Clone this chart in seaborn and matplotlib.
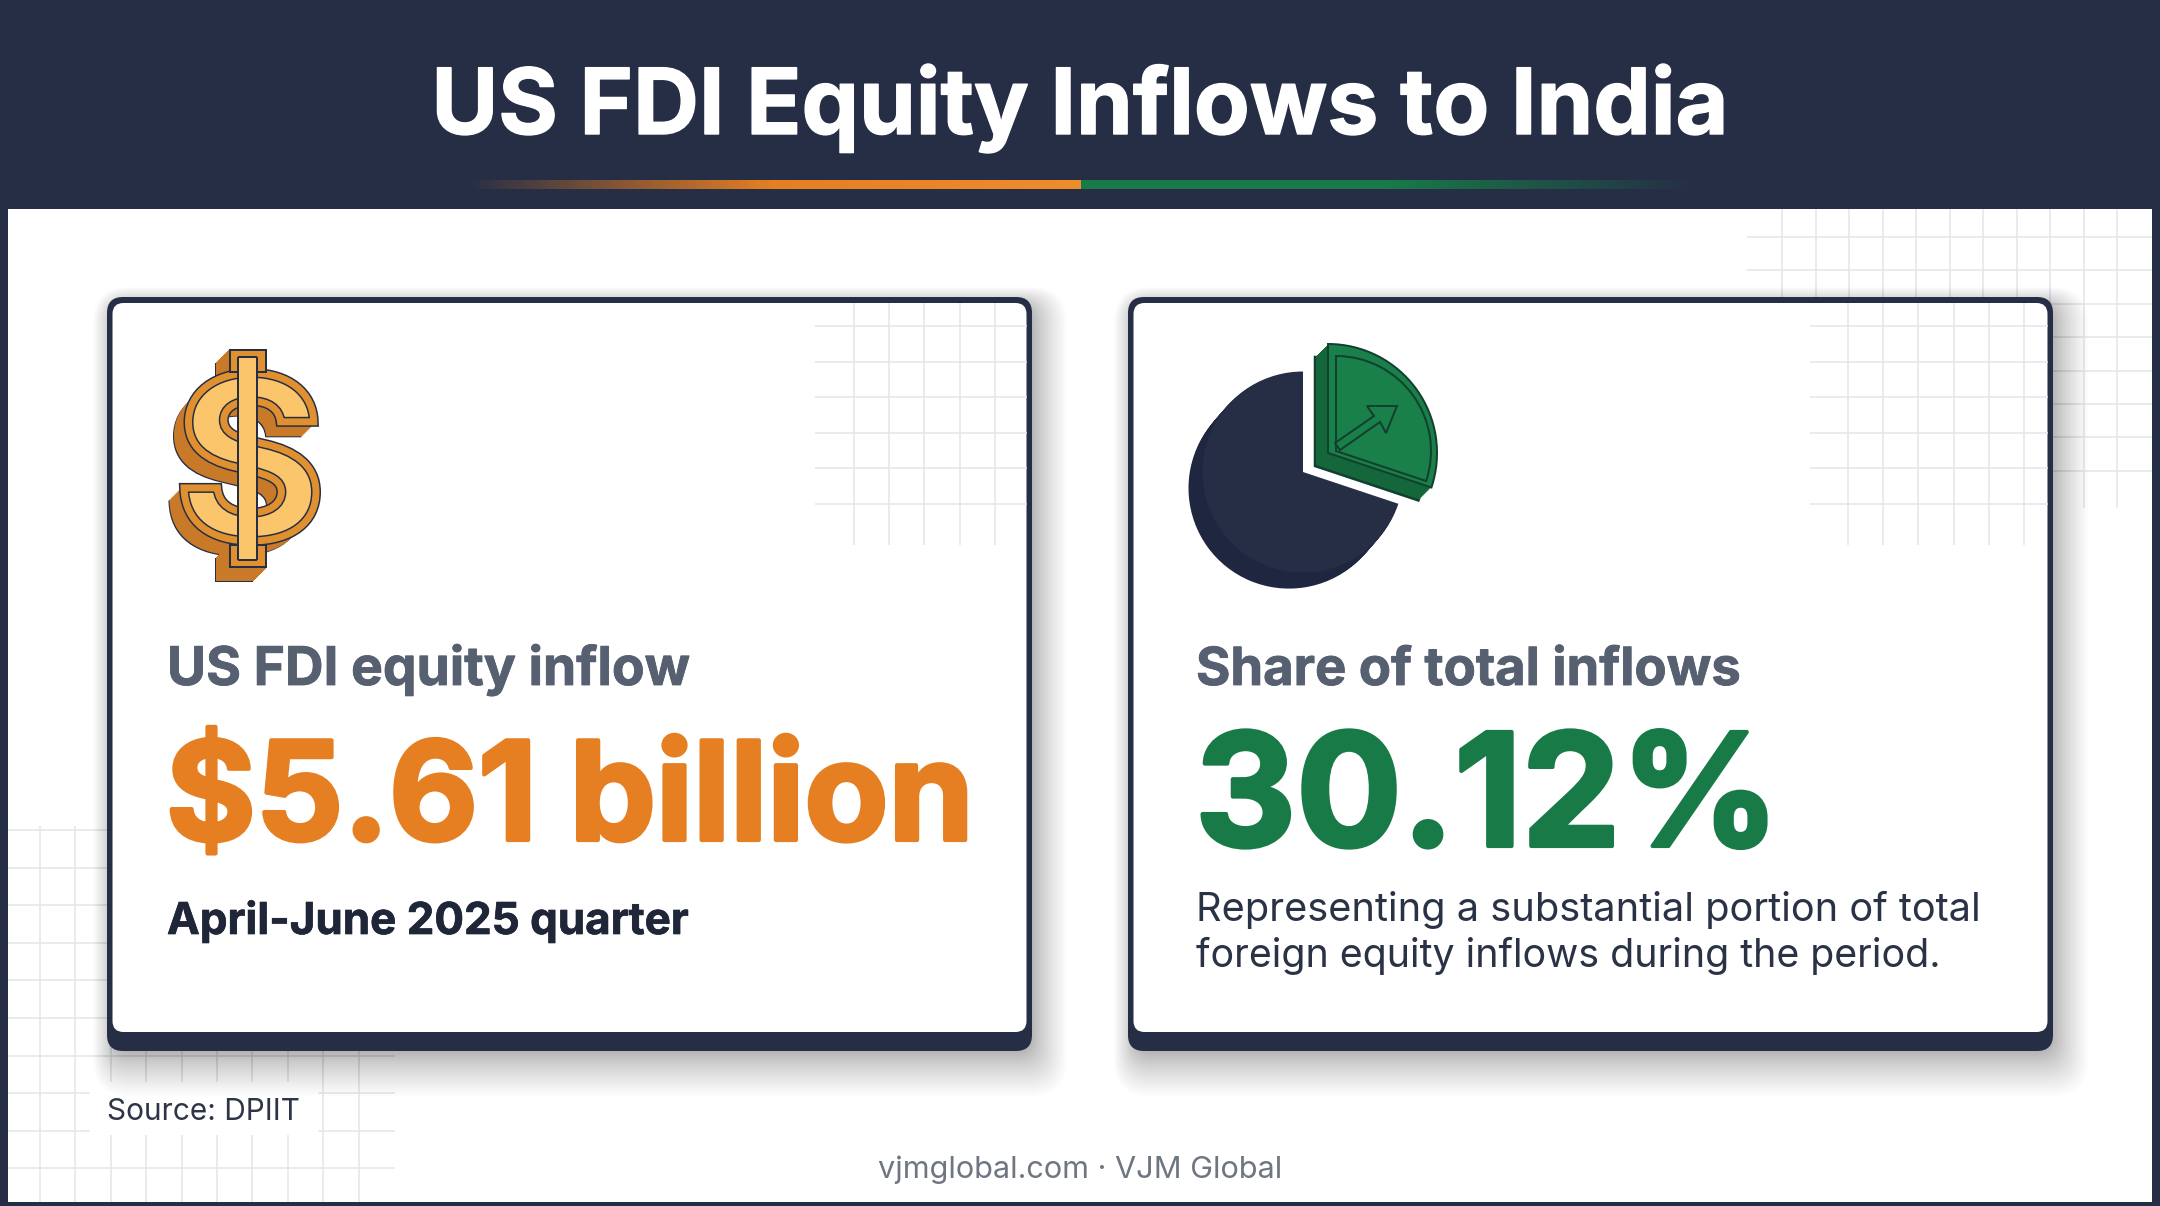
"""
US FDI equity inflows to India: two stat cards on a dark header slide.
Everything is placed on one full-figure axes measured in image pixels.

Run:
    python plot.py
"""

import numpy as np
import matplotlib
matplotlib.use("Agg")
import matplotlib.pyplot as plt
import matplotlib.patheffects as pe
import seaborn as sns
from matplotlib.patches import FancyBboxPatch, PathPatch, Polygon, Rectangle
from matplotlib.font_manager import FontProperties
from matplotlib.text import TextPath
from matplotlib.transforms import Affine2D

# ── Data ─────────────────────────────────────────────────────────────────────
TITLE = "US FDI Equity Inflows to India"
INFLOW_BILLION = 5.61
SHARE_PCT = 30.12
INFLOW_LABEL = "US FDI equity inflow"
SHARE_LABEL = "Share of total inflows"
PERIOD_LABEL = "April-June 2025 quarter"
NOTE_LINES = ["Representing a substantial portion of total",
              "foreign equity inflows during the period."]
SOURCE = "Source: DPIIT"
FOOTER = "vjmglobal.com · VJM Global"

# ── Colours ──────────────────────────────────────────────────────────────────
NAVY = "#252e45"
ORANGE = "#e67e22"
GREEN = "#187a47"
GREY_TEXT = "#566070"
GRID = "#e3e6e9"
COIN_DARK = "#c97a28"
COIN_MID = "#e0902f"
COIN_LIGHT = "#fbc56c"

W, H = 2160, 1206
PX = 0.72  # one image pixel in points at dpi 100
FONT = "Inter"

sns.set_theme(style="white")
plt.rcParams["font.family"] = [FONT, "DejaVu Sans"]

fig = plt.figure(figsize=(W / 100, H / 100), dpi=100, facecolor=NAVY)
ax = fig.add_axes([0, 0, 1, 1])
ax.set_xlim(0, W)
ax.set_ylim(H, 0)
ax.axis("off")
ax.set_autoscale_on(False)


def grid_lines(xs, ys, x_span, y_span, z):
    ax.vlines(xs, y_span[0], y_span[1], color=GRID, lw=1.5 * PX, zorder=z)
    ax.hlines(ys, x_span[0], x_span[1], color=GRID, lw=1.5 * PX, zorder=z)


def fit_text(x, y, s, width, heavy=0.0, **kw):
    # size the text so that it spans the measured width
    t = ax.text(x, y, s, va="baseline", fontsize=40, zorder=8, **kw)
    extent = t.get_window_extent(fig.canvas.get_renderer())
    t.set_fontsize(40 * width / extent.width)
    if heavy:
        # Inter bold is lighter than the reference face, thicken it a little
        t.set_path_effects([pe.withStroke(linewidth=heavy, foreground=t.get_color())])
    return t


def rounded(x0, y0, x1, y1, r, **kw):
    p = FancyBboxPatch((x0 + r, y0 + r), x1 - x0 - 2 * r, y1 - y0 - 2 * r,
                       boxstyle=f"round,pad={r},rounding_size={r}", **kw)
    ax.add_patch(p)
    return p


def share_wedge(center, radius, part, color, z, edge="none", lw=0.0, fill=True):
    # part 0 is the share slice starting at twelve o'clock, part 1 the rest
    wedges, _ = ax.pie([SHARE_PCT, 100 - SHARE_PCT], center=center, radius=radius,
                       startangle=-90, frame=True,
                       wedgeprops=dict(linewidth=lw, edgecolor=edge))
    wedges[1 - part].set_visible(False)
    wedges[part].set_facecolor(color if fill else "none")
    wedges[part].set_zorder(z)
    return wedges[part]


# ── Page ─────────────────────────────────────────────────────────────────────
ax.add_patch(Rectangle((8, 209), 2144, 993, fc="white", ec="none", zorder=1))

# background grids
grid_lines(np.arange(1782, 2120, 33.5), np.arange(237, 475, 33.4),
           (1747, 2152), (209, 508), 2)
grid_lines(np.arange(40, 365, 35.4), np.arange(830, 1170, 37.6),
           (8, 395), (826, 1202), 2)

# keep the grid off the source line
ax.add_patch(Rectangle((90, 1082), 228, 53, fc="white", ec="none", zorder=2.5))

# header accent, orange and green fading out towards the ends
n_fade = 160
left_cols = sns.blend_palette([NAVY, ORANGE, "#ee8c2c"], n_fade)
right_cols = sns.blend_palette([GREEN, GREEN, NAVY], n_fade)
xs_left = np.linspace(465, 1080, n_fade + 1)
xs_right = np.linspace(1080, 1695, n_fade + 1)
for i in range(n_fade):
    ax.add_patch(Rectangle((xs_left[i], 180), xs_left[i + 1] - xs_left[i] + 0.6, 9,
                           fc=left_cols[i], ec="none", zorder=3))
    ax.add_patch(Rectangle((xs_right[i], 180), xs_right[i + 1] - xs_right[i] + 0.6, 9,
                           fc=right_cols[i], ec="none", zorder=3))

fit_text(1080, 134, TITLE, 1297, heavy=1, color="white", fontweight="bold", ha="center")

# ── Cards ────────────────────────────────────────────────────────────────────
n_shadow = 32
for x0, x1 in [(107, 1032), (1128, 2053)]:
    # soft shadow, mostly right of and below the card
    for k in range(n_shadow):
        e = ((k + 1) / n_shadow) ** 1.5
        rounded(x0 + 10 - 24 * e, 307 - 20 * e, x1 - 5 + 40 * e, 1046 + 50 * e, 16 + 20 * e,
                fc="black", ec="none", alpha=0.011, zorder=3)
    rounded(x0, 297, x1, 1051, 16, fc=NAVY, ec="none", zorder=4)
    rounded(x0 + 5.5, 303, x1 - 5.5, 1032, 11, fc="white", ec="none", zorder=5)

grid_lines(np.arange(1848, 2030, 35.2), np.arange(326, 510, 35.6), (1810, 2048), (303, 545), 6)
grid_lines(np.arange(854, 1000, 35.2), np.arange(326, 510, 35.6), (815, 1027), (303, 545), 6)

# ── Dollar icon: an S with a vertical bar through it ─────────────────────────
glyph = TextPath((0, 0), "S", size=100, prop=FontProperties(family=FONT, weight="bold"))
bb = glyph.get_extents()
to_px = (Affine2D().translate(-bb.x0, -bb.y0).scale(132 / bb.width, -168 / bb.height)
         .translate(184, 541))
letter = to_px.transform_path(glyph)

# extruded back faces, S and the two bar stubs
for k in np.linspace(14, 0, 15):
    ax.add_patch(PathPatch(Affine2D().translate(-k, k).transform_path(letter),
                           fc=COIN_DARK, ec=NAVY if k == 14 else COIN_DARK, lw=3 * PX, zorder=7))
    for y0, y1 in [(350, 372), (545, 567)]:
        ax.add_patch(Rectangle((230 - k, y0 + k), 36, y1 - y0, fc=COIN_DARK,
                               ec=NAVY if k == 14 else COIN_DARK, lw=2 * PX, zorder=7))

ax.add_patch(PathPatch(letter, fc=COIN_LIGHT, ec=NAVY, lw=10 * PX, zorder=7.1))
ax.add_patch(PathPatch(letter, fc="none", ec=COIN_MID, lw=7 * PX, zorder=7.2))

# front of the bar
ax.add_patch(Rectangle((230, 350), 36, 22, fc=COIN_MID, ec=NAVY, lw=2 * PX, zorder=7.3))
ax.add_patch(Rectangle((230, 545), 36, 22, fc=COIN_MID, ec=NAVY, lw=2 * PX, zorder=7.3))
ax.add_patch(Rectangle((238, 357), 19, 203, fc=COIN_LIGHT, ec="none", zorder=7.4))
ax.vlines([238, 257], [357, 357], [560, 560], color=NAVY, lw=2 * PX, zorder=7.5)
ax.hlines([357, 560], 238, 257, color=NAVY, lw=2 * PX, zorder=7.5)

# ── Share icon, slices drawn from the share value ────────────────────────────
navy_center = (1303, 472)
for k in np.linspace(14, 1, 14):
    share_wedge((navy_center[0] - k, navy_center[1] + k * 1.15), 100.5, 1, "#1f2740", 7)
share_wedge(navy_center, 100.5, 1, NAVY, 7.1)

green_center = (1328, 453)
share_wedge((green_center[0] - 13, green_center[1] + 13), 109, 0, "#123f2e", 7, edge="#123f2e", lw=2.5 * PX)
for k in np.linspace(12, 1, 12):
    share_wedge((green_center[0] - k, green_center[1] + k), 109, 0, "#14663b", 7.1)
share_wedge(green_center, 109, 0, "#1a8049", 7.2, edge="#123f2e", lw=2 * PX)
share_wedge((1336, 451), 95, 0, "none", 7.3, edge="#123f2e", lw=2 * PX, fill=False)
ax.add_patch(Polygon([(1335, 443), (1374, 416), (1367, 406), (1397, 406), (1386, 433),
                      (1380, 422), (1340, 450)], closed=True, fc="#1a8049", ec="#123f2e",
                     lw=2 * PX, zorder=7.4))

# ── Card text ────────────────────────────────────────────────────────────────
fit_text(167, 685, INFLOW_LABEL, 523, heavy=0.6, color=GREY_TEXT, fontweight="bold")
fit_text(166, 840, f"${INFLOW_BILLION} billion", 808, heavy=3, color=ORANGE, fontweight="bold")
fit_text(167, 934, PERIOD_LABEL, 522, heavy=0.5, color="#1e2638", fontweight="bold")

fit_text(1196, 685, SHARE_LABEL, 545, heavy=0.6, color=GREY_TEXT, fontweight="bold")
fit_text(1195, 846, f"{SHARE_PCT}%", 584, heavy=3, color=GREEN, fontweight="bold")
fit_text(1196, 921, NOTE_LINES[0], 784, color="#2a3245")
fit_text(1196, 967, NOTE_LINES[1], 745, color="#2a3245")

fit_text(107, 1120, SOURCE, 193, color="#2e3547")
fit_text(1080, 1178, FOOTER, 405, color="#6f7682", ha="center")

ax.set_xlim(0, W)
ax.set_ylim(H, 0)
ax.set_aspect("auto")
fig.savefig("out.png", dpi=100, facecolor=NAVY)
